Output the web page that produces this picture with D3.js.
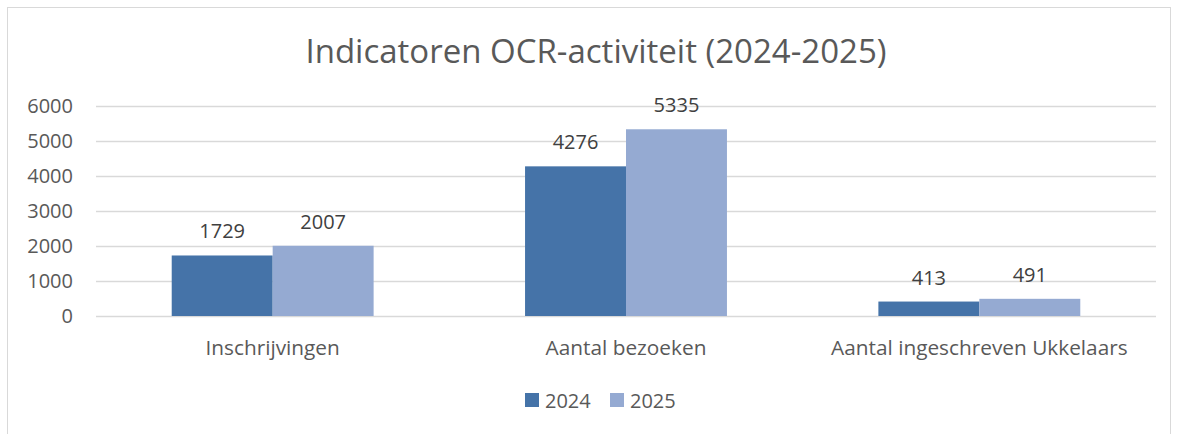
<!DOCTYPE html>
<html>
<head>
<meta charset="utf-8">
<script src="https://cdn.jsdelivr.net/npm/d3@7"></script>
<style>
  body { margin: 0; background: #fff; }
  svg { display: block; font-family: "Open Sans", "Noto Sans", sans-serif; }
</style>
</head>
<body>
<div id="chart"></div>
<script>
// data
const categories = ["Inschrijvingen", "Aantal bezoeken", "Aantal ingeschreven Ukkelaars"];
const seriesNames = ["2024", "2025"];
const values2024 = [1729, 4276, 413];
const values2025 = [2007, 5335, 491];
const yTicks = [0, 1000, 2000, 3000, 4000, 5000, 6000];

const colors = ["#4573A8", "#95AAD2"];
const W = 1178, H = 434;

let margin = { top: 106, right: 22, bottom: 118, left: 96 };
let width = W - margin.left - margin.right;
let height = H - margin.top - margin.bottom;

let svg = d3.select("#chart").append("svg")
    .attr("width", W)
    .attr("height", H);

// chart frame
svg.append("rect")
    .attr("x", 7.5).attr("y", 7.5)
    .attr("width", 1163).attr("height", H)
    .attr("fill", "none")
    .attr("stroke", "#d9d9d9")
    .attr("stroke-width", 1);

// title
svg.append("text")
    .attr("x", 596)
    .attr("y", 63)
    .attr("text-anchor", "middle")
    .attr("fill", "#595959")
    .style("font-size", "33px")
    .text("Indicatoren OCR-activiteit (2024-2025)");

let g = svg.append("g")
    .attr("transform", "translate(" + margin.left + "," + margin.top + ")");

let y = d3.scaleLinear().domain([0, 6000]).range([height, 0]);
let x = d3.scaleBand().domain(categories).range([0, width]).paddingInner(0).paddingOuter(0);
let xs = d3.scaleBand().domain(seriesNames).range([0, x.bandwidth()]).paddingInner(0).paddingOuter(0.75);

// gridlines
g.append("g")
    .call(d3.axisLeft(y).tickValues(yTicks).tickSize(-width).tickFormat(""))
    .call(a => a.select(".domain").remove())
    .selectAll("line")
    .attr("stroke", "#d9d9d9")
    .attr("stroke-width", 1.3);

// y tick labels
g.selectAll(".ylab")
    .data(yTicks)
    .enter()
    .append("text")
    .attr("x", -23)
    .attr("y", d => y(d) + 7)
    .attr("text-anchor", "end")
    .attr("fill", "#595959")
    .style("font-size", "20px")
    .text(d => d);

// bars
const rows = categories.map((c, i) => ({ cat: c, vals: [values2024[i], values2025[i]] }));
let groups = g.selectAll(".grp")
    .data(rows)
    .enter()
    .append("g")
    .attr("transform", d => "translate(" + x(d.cat) + ",0)");

groups.selectAll("rect")
    .data(d => d.vals.map((v, k) => ({ s: seriesNames[k], v: v, k: k })))
    .enter()
    .append("rect")
    .attr("x", d => xs(d.s))
    .attr("y", d => y(d.v))
    .attr("width", xs.bandwidth())
    .attr("height", d => height - y(d.v))
    .attr("fill", d => colors[d.k]);

// data labels
groups.selectAll(".lbl")
    .data(d => d.vals.map((v, k) => ({ s: seriesNames[k], v: v })))
    .enter()
    .append("text")
    .attr("x", d => xs(d.s) + xs.bandwidth() / 2)
    .attr("y", d => y(d.v) - 17)
    .attr("text-anchor", "middle")
    .attr("fill", "#404040")
    .style("font-size", "20px")
    .text(d => d.v);

// category labels
g.selectAll(".xlab")
    .data(categories)
    .enter()
    .append("text")
    .attr("x", d => x(d) + x.bandwidth() / 2)
    .attr("y", height + 39)
    .attr("text-anchor", "middle")
    .attr("fill", "#595959")
    .style("font-size", "20.8px")
    .text(d => d);

// legend
let legend = svg.append("g");
const legendX = [525, 610];
seriesNames.forEach((s, i) => {
    legend.append("rect")
        .attr("x", legendX[i]).attr("y", 393)
        .attr("width", 14).attr("height", 14)
        .attr("fill", colors[i]);
    legend.append("text")
        .attr("x", legendX[i] + 20).attr("y", 408)
        .attr("fill", "#595959")
        .style("font-size", "20px")
        .text(s);
});
</script>
</body>
</html>
